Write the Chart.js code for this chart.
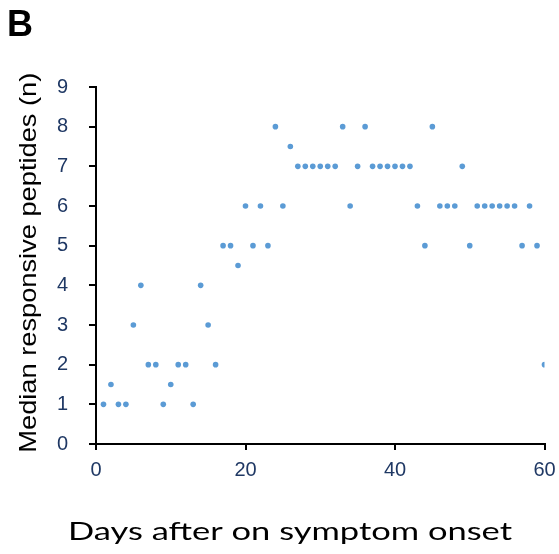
<!DOCTYPE html>
<html>
<head>
<meta charset="utf-8">
<script src="https://cdn.jsdelivr.net/npm/chart.js@4"></script>
<style>
  html, body { margin: 0; padding: 0; background: #ffffff; }
  #wrap { width: 559px; height: 554px; position: relative; }
</style>
</head>
<body>
<div id="wrap"><canvas id="c" width="559" height="554"></canvas></div>
<script>
// ---- data ----
const days = [1,2,3,4,5,6,7,8,9,10,11,12,13,14,15,16,17,18,19,20,
              21,22,23,24,25,26,27,28,29,30,31,32,33,34,35,36,37,38,39,40,
              41,42,43,44,45,46,47,48,49,50,51,52,53,54,55,56,57,58,59,60];
const medianPeptides = [1,1.5,1,1,3,4,2,2,1,1.5,2,2,1,4,3,2,5,5,4.5,6,
                        5,6,5,8,6,7.5,7,7,7,7,7,7,8,6,7,8,7,7,7,7,
                        7,7,6,5,8,6,6,6,7,5,6,6,6,6,6,6,5,6,5,2];
const xTicks = [0, 20, 40, 60];
const yTicks = [0,1,2,3,4,5,6,7,8,9];
const panelLabel = 'B';
const xTitle = 'Days after on symptom onset';
const yTitle = 'Median responsive peptides (n)';

const points = days.map((d, i) => ({ x: d, y: medianPeptides[i] }));

const textPlugin = {
  id: 'texts',
  afterDraw(chart) {
    const ctx = chart.ctx;
    ctx.save();
    ctx.fillStyle = '#000000';
    // panel label
    ctx.font = 'bold 36px "Liberation Sans", Arial, sans-serif';
    ctx.textAlign = 'left';
    ctx.textBaseline = 'alphabetic';
    ctx.fillText(panelLabel, 7, 36);
    // x title
    ctx.font = '25.5px Lato, "Open Sans", sans-serif';
    ctx.textAlign = 'center';
    let w = ctx.measureText(xTitle).width;
    ctx.save();
    ctx.translate(290, 540);
    ctx.scale(444 / w, 1);
    ctx.fillText(xTitle, 0, 0);
    ctx.restore();
    // y title
    ctx.font = '23.7px "Liberation Sans", Arial, sans-serif';
    w = ctx.measureText(yTitle).width;
    ctx.save();
    ctx.translate(36, 262.7);
    ctx.rotate(-Math.PI / 2);
    ctx.scale(380 / w, 1);
    ctx.fillText(yTitle, 0, 0);
    ctx.restore();
    ctx.restore();
  }
};

const tickFont = { family: '"Liberation Sans", Arial, sans-serif', size: 20 };
const tickColor = '#1F3864';

new Chart(document.getElementById('c'), {
  type: 'scatter',
  data: {
    datasets: [{
      data: points,
      backgroundColor: '#5B9BD5',
      borderWidth: 0,
      pointRadius: 2.8,
      pointHoverRadius: 2.8
    }]
  },
  options: {
    responsive: false,
    animation: false,
    devicePixelRatio: 1,
    layout: { padding: { top: 87, right: 14.5, left: 0, bottom: 0 } },
    plugins: { legend: { display: false }, tooltip: { enabled: false }, title: { display: false } },
    scales: {
      x: {
        type: 'linear',
        min: 0, max: 60,
        afterBuildTicks(scale) { scale.ticks = xTicks.map(v => ({ value: v })); },
        afterFit(scale) { scale.height = 110; scale.paddingLeft = 0; scale.paddingRight = 0; },
        ticks: { color: tickColor, font: tickFont, padding: 8, maxRotation: 0 },
        grid: { drawOnChartArea: false, drawTicks: true, tickLength: 6, color: '#000000', lineWidth: 2 },
        border: { color: '#000000', width: 2 }
      },
      y: {
        type: 'linear',
        min: 0, max: 9,
        afterBuildTicks(scale) { scale.ticks = yTicks.map(v => ({ value: v })); },
        afterFit(scale) { scale.width = 96; scale.paddingTop = 0; scale.paddingBottom = 0; },
        ticks: { color: tickColor, font: tickFont, padding: 21 },
        grid: { drawOnChartArea: false, drawTicks: true, tickLength: 7, color: '#000000', lineWidth: 2 },
        border: { color: '#000000', width: 2 }
      }
    }
  },
  plugins: [textPlugin]
});
</script>
</body>
</html>
